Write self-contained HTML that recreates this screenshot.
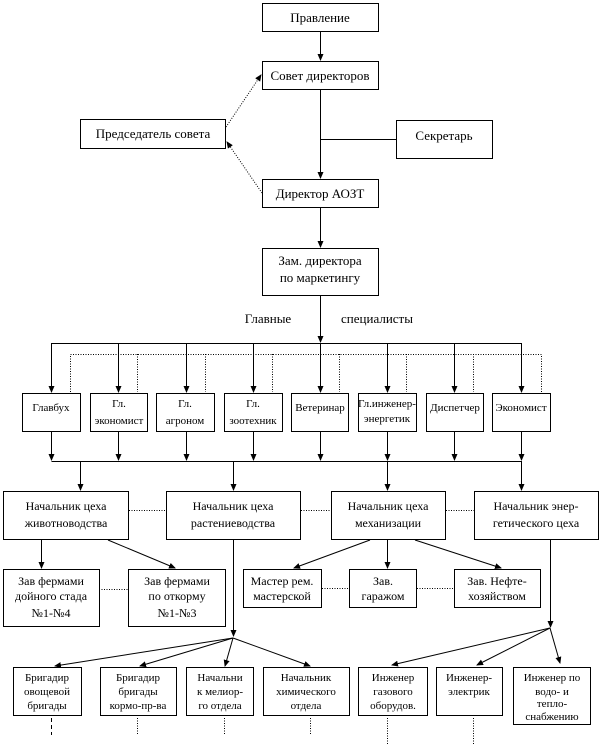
<!DOCTYPE html>
<html><head><meta charset="utf-8"><style>
html,body{margin:0;padding:0;background:#fff}
svg{display:block}
text{font-family:"Liberation Serif",serif;fill:#000}
.t{font-size:13px}
.s{font-size:11px}
.m{font-size:12px}
</style></head><body>
<svg width="602" height="745" viewBox="0 0 602 745" xmlns="http://www.w3.org/2000/svg">
<defs>
<marker id="a" markerWidth="7" markerHeight="7" refX="6" refY="3" orient="auto" markerUnits="userSpaceOnUse"><path d="M0,0 L7,3 L0,6 z" fill="#000"/></marker>
</defs>
<g fill="none" stroke="#000" stroke-width="1">
<!-- top boxes -->
<rect x="262.5" y="3.5" width="116" height="28"/>
<rect x="262.5" y="61.5" width="116" height="28"/>
<rect x="80.5" y="119.5" width="145" height="29"/>
<rect x="396.5" y="120.5" width="96" height="38"/>
<rect x="262.5" y="179.5" width="116" height="28"/>
<rect x="262.5" y="248.5" width="116" height="47"/>
<line x1="320.5" y1="32" x2="320.5" y2="60" marker-end="url(#a)"/>
<line x1="320.5" y1="90" x2="320.5" y2="178" marker-end="url(#a)"/>
<line x1="320.5" y1="139.5" x2="396" y2="139.5"/>
<line x1="320.5" y1="208" x2="320.5" y2="247" marker-end="url(#a)"/>
<line x1="226" y1="127" x2="261" y2="75" stroke-dasharray="1,1.5" marker-end="url(#a)"/>
<line x1="262" y1="193" x2="227" y2="142" stroke-dasharray="1,1.5" marker-end="url(#a)"/>
<line x1="320.5" y1="296" x2="320.5" y2="342" marker-end="url(#a)"/>
<!-- specialist buses -->
<line x1="51.5" y1="343.5" x2="521.5" y2="343.5"/>
<polyline points="70.5,392 70.5,354.5 541.5,354.5 541.5,392" stroke-dasharray="1,1.5"/>
<g stroke-dasharray="1,1.5">
<line x1="137.5" y1="354" x2="137.5" y2="392"/>
<line x1="205.5" y1="354" x2="205.5" y2="392"/>
<line x1="272.5" y1="354" x2="272.5" y2="392"/>
<line x1="339.5" y1="354" x2="339.5" y2="392"/>
<line x1="406.5" y1="354" x2="406.5" y2="392"/>
<line x1="473.5" y1="354" x2="473.5" y2="392"/>
</g>
<g>
<rect x="22.5" y="393.5" width="58" height="38"/>
<rect x="90.5" y="393.5" width="57" height="38"/>
<rect x="156.5" y="393.5" width="58" height="38"/>
<rect x="224.5" y="393.5" width="58" height="38"/>
<rect x="291.5" y="393.5" width="57" height="38"/>
<rect x="358.5" y="393.5" width="58" height="38"/>
<rect x="426.5" y="393.5" width="57" height="38"/>
<rect x="492.5" y="393.5" width="58" height="38"/>
</g>
<g marker-end="url(#a)">
<line x1="51.5" y1="343" x2="51.5" y2="392"/>
<line x1="118.5" y1="343" x2="118.5" y2="392"/>
<line x1="186.5" y1="343" x2="186.5" y2="392"/>
<line x1="253.5" y1="343" x2="253.5" y2="392"/>
<line x1="320.5" y1="343" x2="320.5" y2="392"/>
<line x1="387.5" y1="343" x2="387.5" y2="392"/>
<line x1="454.5" y1="343" x2="454.5" y2="392"/>
<line x1="521.5" y1="343" x2="521.5" y2="392"/>
<line x1="51.5" y1="432" x2="51.5" y2="460"/>
<line x1="118.5" y1="432" x2="118.5" y2="460"/>
<line x1="186.5" y1="432" x2="186.5" y2="460"/>
<line x1="253.5" y1="432" x2="253.5" y2="460"/>
<line x1="320.5" y1="432" x2="320.5" y2="460"/>
<line x1="387.5" y1="432" x2="387.5" y2="460"/>
<line x1="454.5" y1="432" x2="454.5" y2="460"/>
<line x1="521.5" y1="432" x2="521.5" y2="460"/>
<line x1="80.5" y1="461" x2="80.5" y2="490"/>
<line x1="233.5" y1="461" x2="233.5" y2="490"/>
<line x1="387.5" y1="461" x2="387.5" y2="490"/>
<line x1="521.5" y1="461" x2="521.5" y2="490"/>
</g>
<line x1="51.5" y1="461.5" x2="521.5" y2="461.5"/>
<!-- row 2 -->
<rect x="3.5" y="491.5" width="125" height="48"/>
<rect x="166.5" y="491.5" width="134" height="48"/>
<rect x="331.5" y="491.5" width="114" height="48"/>
<rect x="474.5" y="491.5" width="124" height="48"/>
<g stroke-dasharray="1,1.5">
<line x1="129" y1="510.5" x2="166" y2="510.5"/>
<line x1="301" y1="510.5" x2="331" y2="510.5"/>
<line x1="446" y1="510.5" x2="474" y2="510.5"/>
<line x1="99" y1="589.5" x2="128" y2="589.5"/>
<line x1="322" y1="588.5" x2="349" y2="588.5"/>
<line x1="417" y1="588.5" x2="454" y2="588.5"/>
</g>
<!-- row 3 -->
<rect x="3.5" y="569.5" width="96" height="57"/>
<rect x="128.5" y="569.5" width="97" height="57"/>
<rect x="243.5" y="569.5" width="78" height="38"/>
<rect x="349.5" y="569.5" width="67" height="38"/>
<rect x="454.5" y="569.5" width="86" height="38"/>
<g marker-end="url(#a)">
<line x1="41.5" y1="540" x2="41.5" y2="568"/>
<line x1="108" y1="540" x2="175" y2="568"/>
<line x1="370" y1="540" x2="294" y2="568"/>
<line x1="387.5" y1="540" x2="387.5" y2="568"/>
<line x1="415" y1="540" x2="501" y2="568"/>
<line x1="233.5" y1="540" x2="233.5" y2="636"/>
<line x1="550.5" y1="540" x2="550.5" y2="627"/>
<line x1="233" y1="638" x2="55" y2="666"/>
<line x1="233" y1="638" x2="140" y2="666"/>
<line x1="233" y1="638" x2="225" y2="666"/>
<line x1="233" y1="638" x2="310" y2="666"/>
<line x1="550" y1="628" x2="392" y2="665"/>
<line x1="550" y1="628" x2="477" y2="665"/>
<line x1="550" y1="628" x2="560" y2="663"/>
</g>
<!-- row 4 -->
<rect x="13.5" y="667.5" width="68" height="48"/>
<rect x="100.5" y="667.5" width="76" height="48"/>
<rect x="186.5" y="667.5" width="67" height="48"/>
<rect x="263.5" y="667.5" width="86" height="48"/>
<rect x="358.5" y="667.5" width="69" height="48"/>
<rect x="436.5" y="667.5" width="66" height="48"/>
<rect x="513.5" y="667.5" width="77" height="57"/>
<line x1="51.5" y1="718" x2="51.5" y2="735" stroke-dasharray="4,3"/>
<g stroke-dasharray="1,1.5">
<line x1="137.5" y1="718" x2="137.5" y2="735"/>
<line x1="224.5" y1="718" x2="224.5" y2="735"/>
<line x1="310.5" y1="718" x2="310.5" y2="735"/>
<line x1="387.5" y1="718" x2="387.5" y2="745"/>
<line x1="473.5" y1="718" x2="473.5" y2="745"/>
</g>
</g>
<g text-anchor="middle">
<text class="t" x="320" y="22">Правление</text>
<text class="t" x="320" y="80">Совет директоров</text>
<text class="t" x="153" y="138">Председатель совета</text>
<text class="t" x="444" y="140">Секретарь</text>
<text class="t" x="320" y="198">Директор АОЗТ</text>
<text class="t" x="320" y="265">Зам. директора</text>
<text class="t" x="320" y="282">по маркетингу</text>
<text class="t" x="268" y="323">Главные</text>
<text class="t" x="377" y="323">специалисты</text>
<text class="s" x="51" y="411">Главбух</text>
<text class="s" x="119" y="407">Гл.</text><text class="s" x="119" y="424">экономист</text>
<text class="s" x="185" y="407">Гл.</text><text class="s" x="185" y="424">агроном</text>
<text class="s" x="253" y="407">Гл.</text><text class="s" x="253" y="424">зоотехник</text>
<text class="s" x="320" y="411">Ветеринар</text>
<text class="s" x="387" y="407">Гл.инженер-</text><text class="s" x="387" y="422">энергетик</text>
<text class="s" x="455" y="411">Диспетчер</text>
<text class="s" x="521" y="411">Экономист</text>
<text class="m" x="66" y="510">Начальник цеха</text><text class="m" x="66" y="527">животноводства</text>
<text class="m" x="233" y="510">Начальник цеха</text><text class="m" x="233" y="527">растениеводства</text>
<text class="m" x="388" y="510">Начальник цеха</text><text class="m" x="388" y="527">механизации</text>
<text class="m" x="536" y="510">Начальник энер-</text><text class="m" x="536" y="527">гетического цеха</text>
<text class="m" x="51" y="585">Зав фермами</text><text class="m" x="51" y="600">дойного стада</text><text class="m" x="51" y="617">№1-№4</text>
<text class="m" x="177" y="585">Зав фермами</text><text class="m" x="177" y="600">по откорму</text><text class="m" x="177" y="617">№1-№3</text>
<text class="m" x="282" y="585">Мастер рем.</text><text class="m" x="282" y="600">мастерской</text>
<text class="m" x="383" y="585">Зав.</text><text class="m" x="383" y="600">гаражом</text>
<text class="m" x="497" y="585">Зав. Нефте-</text><text class="m" x="497" y="600">хозяйством</text>
<text class="s" x="47" y="681">Бригадир</text><text class="s" x="47" y="695">овощевой</text><text class="s" x="47" y="709">бригады</text>
<text class="s" x="138" y="681">Бригадир</text><text class="s" x="138" y="695">бригады</text><text class="s" x="138" y="709">кормо-пр-ва</text>
<text class="s" x="220" y="681">Начальни</text><text class="s" x="220" y="695">к мелиор-</text><text class="s" x="220" y="709">го отдела</text>
<text class="s" x="306" y="681">Начальник</text><text class="s" x="306" y="695">химического</text><text class="s" x="306" y="709">отдела</text>
<text class="s" x="393" y="681">Инженер</text><text class="s" x="393" y="695">газового</text><text class="s" x="393" y="709">оборудов.</text>
<text class="s" x="469" y="681">Инженер-</text><text class="s" x="469" y="695">электрик</text>
<text class="s" x="552" y="681">Инженер по</text><text class="s" x="552" y="695">водо- и</text><text class="s" x="552" y="707">тепло-</text><text class="s" x="552" y="720">снабжению</text>
</g>
</svg>
</body></html>
